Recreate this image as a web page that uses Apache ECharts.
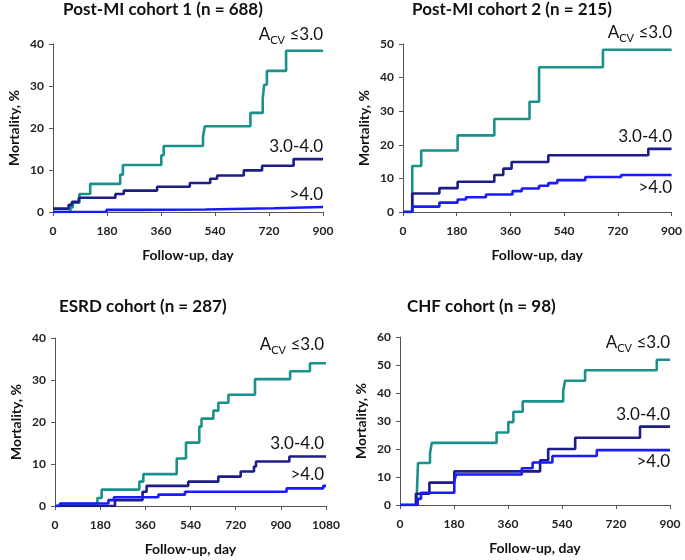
<!DOCTYPE html>
<html>
<head>
<meta charset="utf-8">
<script src="https://cdn.jsdelivr.net/npm/echarts@6/dist/echarts.min.js"></script>
<style>
  html, body { margin: 0; padding: 0; background: #fff; }
  #chart { width: 685px; height: 560px; }
</style>
</head>
<body>
<div id="chart"></div>
<script>
// panel titles and axis ticks
const titles = ['Post-MI cohort 1 (n = 688)', 'Post-MI cohort 2 (n = 215)', 'ESRD cohort (n = 287)', 'CHF cohort (n = 98)'];
const xMax = [900, 900, 1080, 900];
const yMax = [40, 50, 40, 60];

// [day, mortality %] step points; groups: ACV <=3.0, 3.0-4.0, >4.0
const mi1Low = [[0, 0], [58, 1.1], [66, 2.2], [88, 4.3], [124, 6.7], [224, 8.9], [233, 11.2], [361, 13.5], [369, 15.7], [500, 18], [506, 20.4], [658, 23.6], [699, 27], [704, 30.3], [713, 33.6], [777, 38.4], [900, 38.4]];
const mi1Mid = [[0, 0.8], [52, 1.7], [63, 2.4], [86, 3.4], [208, 4.3], [236, 5.1], [347, 6], [456, 6.9], [524, 7.9], [547, 8.7], [636, 9.9], [697, 11], [802, 12.6], [900, 12.6]];
const mi1High = [[0, 0], [178, 0.5], [280, 0.6], [508, 0.9], [736, 1.2], [900, 1.3]];

const mi2Low = [[0, 0], [31, 13.7], [61, 18.3], [183, 22.8], [306, 27.7], [424, 32.8], [456, 43.1], [670, 48.3], [900, 48.3]];
const mi2Mid = [[0, 0], [31, 5.5], [122, 7.1], [183, 9], [306, 11], [336, 12.9], [364, 14.9], [487, 16.9], [822, 18.8], [900, 18.8]];
const mi2High = [[0, 0], [31, 1.6], [122, 2.8], [183, 3.7], [211, 4.4], [278, 5.2], [367, 6.2], [398, 7], [456, 7.8], [487, 8.6], [517, 9.5], [611, 10.4], [731, 11], [900, 11]];

const esrdLow = [[0, 0], [20, 0.5], [169, 1.9], [186, 3.9], [336, 5.8], [352, 7.6], [485, 11.3], [522, 15.1], [575, 18.9], [584, 20.8], [631, 22.7], [651, 24.6], [691, 26.5], [797, 30.2], [937, 32.1], [1016, 34], [1080, 34]];
const esrdMid = [[0, 0], [239, 1.4], [349, 3.4], [365, 4.8], [531, 5.8], [651, 7], [740, 8.2], [793, 9.4], [801, 10.6], [934, 11.8], [1080, 11.8]];
const esrdHigh = [[0, 0], [20, 0.6], [213, 1.4], [235, 2.1], [412, 2.7], [518, 3.4], [923, 4.2], [1069, 4.8], [1080, 4.8]];

const chfLow = [[0, 0], [56, 3.6], [60, 15], [100, 18.5], [106, 22.2], [322, 25.9], [361, 29.6], [378, 33.3], [409, 37], [544, 40.7], [550, 44.4], [617, 48.1], [856, 51.9], [900, 51.9]];
const chfMid = [[0, 0], [53, 4], [98, 8], [181, 12], [467, 16], [494, 20], [584, 24], [800, 28], [900, 28]];
const chfHigh = [[0, 0], [59, 2.2], [70, 4.4], [181, 8.7], [187, 10.9], [406, 13.1], [442, 15.2], [508, 17.5], [656, 19.6], [900, 19.6]];

const panelData = [
  [mi1Low, mi1Mid, mi1High],
  [mi2Low, mi2Mid, mi2High],
  [esrdLow, esrdMid, esrdHigh],
  [chfLow, chfMid, chfHigh]
];
const groupLabels = ['{a|A}{s|CV} {a|≤3.0}', '3.0-4.0', '>4.0'];
const colors = ['#18928b', '#1c1c8a', '#1a1aff'];

const font = 'Lato, "Open Sans", sans-serif';
const grids = [
  { left: 53, top: 44, width: 270, height: 168 },
  { left: 403, top: 44, width: 270, height: 168 },
  { left: 55, top: 338, width: 271, height: 168 },
  { left: 400, top: 337, width: 270, height: 168 }
];
// title anchor and label spots (right edge x, middle y) per panel
const titlePos = [
  { left: 163, top: 0, textAlign: 'center' },
  { left: 512, top: 0, textAlign: 'center' },
  { left: 59, top: 297 },
  { left: 407, top: 297 }
];
const labelPos = [
  [[323, 35], [323, 147], [323, 195]],
  [[672, 33], [672, 137], [672, 188]],
  [[324, 345], [324, 444], [324, 475]],
  [[670, 343], [670, 415], [670, 462]]
];

let myChart = echarts.init(document.getElementById('chart'));

let xAxes = [], yAxes = [], series = [], graphic = [], title = [];
grids.forEach((g, i) => {
  title.push({
    text: titles[i],
    left: titlePos[i].left,
    top: titlePos[i].top,
    padding: [1, 0, 0, 0],
    textAlign: titlePos[i].textAlign,
    textStyle: { fontFamily: font, fontSize: 17, fontWeight: 'bold', color: '#111' }
  });
  xAxes.push({
    gridIndex: i,
    type: 'value',
    min: 0,
    max: xMax[i],
    interval: 180,
    name: 'Follow-up, day',
    nameLocation: 'middle',
    nameGap: 36,
    nameTextStyle: { fontFamily: font, fontSize: 14, fontWeight: 'bold', color: '#111' },
    axisLine: { lineStyle: { color: '#555', width: 1 } },
    axisTick: { show: true, length: 4, lineStyle: { color: '#555' } },
    axisLabel: { fontFamily: font, fontSize: 12, fontWeight: 'bold', color: '#222', margin: 13, formatter: v => String(v) },
    splitLine: { show: false }
  });
  yAxes.push({
    gridIndex: i,
    type: 'value',
    min: 0,
    max: yMax[i],
    interval: 10,
    name: 'Mortality, %',
    nameLocation: 'middle',
    nameGap: 32,
    nameTextStyle: { fontFamily: font, fontSize: 14, fontWeight: 'bold', color: '#111' },
    axisLine: { show: true, lineStyle: { color: '#555', width: 1 } },
    axisTick: { show: true, length: 4, lineStyle: { color: '#555' } },
    axisLabel: { fontFamily: font, fontSize: 12, fontWeight: 'bold', color: '#222', margin: 9 },
    splitLine: { show: false }
  });
  panelData[i].forEach((d, k) => {
    series.push({
      type: 'line',
      step: 'end',
      xAxisIndex: i,
      yAxisIndex: i,
      data: d,
      showSymbol: false,
      animation: false,
      lineStyle: { color: colors[k], width: 2.6 },
      z: 2 + k
    });
    graphic.push({
      type: 'text',
      x: labelPos[i][k][0],
      y: labelPos[i][k][1],
      style: {
        text: groupLabels[k],
        align: 'right',
        verticalAlign: 'middle',
        fontFamily: font,
        fontSize: 17,
        fill: '#111',
        rich: {
          a: { fontFamily: font, fontSize: 17, lineHeight: 22, verticalAlign: 'middle' },
          s: { fontFamily: font, fontSize: 11, lineHeight: 22, verticalAlign: 'bottom' }
        }
      }
    });
  });
});

let option = {
  backgroundColor: '#fff',
  title: title,
  grid: grids,
  xAxis: xAxes,
  yAxis: yAxes,
  series: series,
  graphic: graphic
};
myChart.setOption(option);
</script>
</body>
</html>
